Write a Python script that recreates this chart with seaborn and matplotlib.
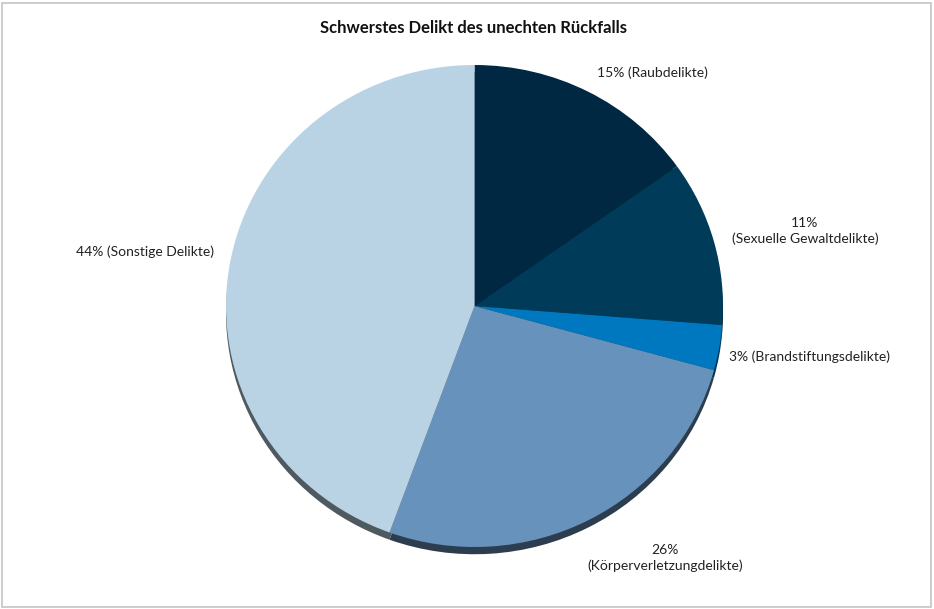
import matplotlib
matplotlib.use("Agg")
import matplotlib.pyplot as plt
import matplotlib.patches as mpatches
from matplotlib.colors import to_rgb
import seaborn as sns

categories = [
    "Raubdelikte",
    "Sexuelle Gewaltdelikte",
    "Brandstiftungsdelikte",
    "Körperverletzungdelikte",
    "Sonstige Delikte",
]
shares = [15, 11, 3, 26, 44]
title = "Schwerstes Delikt des unechten Rückfalls"

slice_colors = ["#002842", "#003b5a", "#0078c0", "#6692bb", "#b9d3e4"]

# label layout: (x px, y px, ha, two-line?)
label_layout = [
    (652, 73, "center", False),
    (805, 231, "center", True),
    (729, 357, "left", False),
    (665, 558, "center", True),
    (214, 252, "right", False),
]

W, H = 934, 609
sns.set_theme(style="white")
plt.rcParams["font.family"] = ["Lato", "DejaVu Sans"]

fig = plt.figure(figsize=(W / 100, H / 100), dpi=100)
fig.patch.set_facecolor("white")
fig.patches.append(mpatches.Rectangle((2 / W, 2 / H), 1 - 5 / W, 1 - 5 / H,
                                      transform=fig.transFigure, fill=False,
                                      edgecolor="#c4c4c4", linewidth=1.2))

# pie area in pixels: x 226..723, y 65..547 (+ shadow)
left, right, top, bottom = 226, 723, 65, 547
ext = 0.05
unit_y = (bottom - top) / 2
ax = fig.add_axes([left / W, (H - bottom - ext * unit_y) / H,
                   (right - left) / W, (bottom - top + ext * unit_y) / H])

palette = sns.color_palette(slice_colors)
shadow = [tuple(c * 0.42 for c in to_rgb(col)) for col in slice_colors]

ax.pie(shares, colors=shadow, startangle=90, counterclock=False,
       center=(0, -0.03), radius=1.0, wedgeprops=dict(linewidth=0))
ax.pie(shares, colors=palette, startangle=90, counterclock=False,
       center=(0, 0), radius=1.0, wedgeprops=dict(linewidth=0))
ax.set_aspect("auto")
ax.set_xlim(-1, 1)
ax.set_ylim(-1 - ext, 1)
ax.axis("off")

fig.text(474 / W, 1 - 28 / H, title, ha="center", va="center",
         fontsize=12, fontweight="bold", color="#111111")

for cat, val, (x, y, ha, two) in zip(categories, shares, label_layout):
    txt = f"{val}%\n({cat})" if two else f"{val}% ({cat})"
    fig.text(x / W, 1 - y / H, txt, ha=ha, va="center", multialignment="center",
             fontsize=10, color="#222222", linespacing=1.3)

fig.savefig("out.png", dpi=100, facecolor="white")
